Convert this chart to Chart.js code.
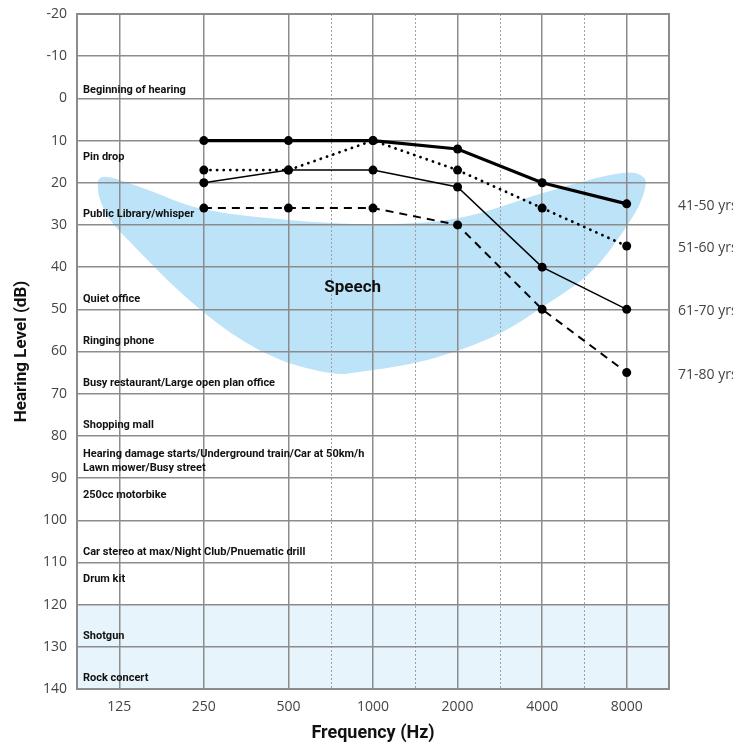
<!DOCTYPE html>
<html>
<head>
<meta charset="utf-8">
<script src="https://cdn.jsdelivr.net/npm/chart.js@4.4.1/dist/chart.umd.min.js"></script>
<style>
  body { margin: 0; background: #fff; }
</style>
</head>
<body>
<canvas id="audiogram" width="733" height="744"></canvas>
<script>
// frequencies (Hz) on the x axis, one per category slot
var frequencies = ['125', '250', '500', '1000', '2000', '4000', '8000'];
var dbTicks = [-20, -10, 0, 10, 20, 30, 40, 50, 60, 70, 80, 90, 100, 110, 120, 130, 140];

// hearing level (dB) per age group, null = not measured
var ageGroups = ['41-50 yrs', '51-60 yrs', '61-70 yrs', '71-80 yrs'];
var hl41to50 = [null, 10, 10, 10, 12, 20, 25];
var hl51to60 = [null, 17, 17, 10, 17, 26, 35];
var hl61to70 = [null, 20, 17, 17, 21, 40, 50];
var hl71to80 = [null, 26, 26, 26, 30, 50, 65];

// everyday sounds and their level
var soundNames = ['Beginning of hearing', 'Pin drop', 'Public Library/whisper', 'Quiet office',
  'Ringing phone', 'Busy restaurant/Large open plan office', 'Shopping mall',
  'Hearing damage starts/Underground train/Car at 50km/h', 'Lawn mower/Busy street',
  '250cc motorbike', 'Car stereo at max/Night Club/Pnuematic drill', 'Drum kit', 'Shotgun', 'Rock concert'];
var soundDb = [-2, 14, 27.5, 47.5, 57.5, 67.5, 77.5, 84.3, 87.6, 94, 107.5, 114, 127.5, 137.5];

// half-octave positions (dotted lines) in category units
var halfOctaves = [2.5, 3.5, 4.5, 5.5];
// painful zone
var loudZone = [120, 140];

// outline of the speech "banana" in (frequency slot, dB)
var speechX  = [-0.18, 0.3, 1.0, 1.99, 3.09, 4.03, 5.01, 5.68, 6.0, 6.18, 6.22, 6.07, 5.6, 5.01, 4.42, 3.64, 2.85, 2.5, 1.91, 1.32, 0.73, 0.14, -0.13, -0.25];
var speechDb = [18.6, 21.4, 26.3, 28.8, 29.8, 28.3, 22.4, 18.7, 17.6, 18.4, 21.0, 28.1, 40.7, 49.4, 56.5, 62.0, 64.8, 65.1, 62.0, 55.6, 46.1, 34.3, 28.1, 22.0];
var speechLabel = { text: 'Speech', x: 2.76, db: 45 };

function toPoints(arr) {
  var pts = [];
  arr.forEach(function(v, i) { if (v !== null) pts.push({ x: i, y: v }); });
  return pts;
}

var labelFont = 'Roboto, sans-serif';
var tickFont = '"Open Sans", sans-serif';

var decorations = {
  id: 'decorations',
  beforeDraw: function(chart) {
    var ctx = chart.ctx, xs = chart.scales.x, ys = chart.scales.y, a = chart.chartArea;
    ctx.save();
    var yTop = ys.getPixelForValue(loudZone[0]);
    var yBot = ys.getPixelForValue(loudZone[1]);
    ctx.fillStyle = '#e7f4fc';
    ctx.fillRect(a.left, yTop, a.right - a.left, yBot - yTop);

    var pts = speechX.map(function(v, i) {
      return [xs.getPixelForValue(v), ys.getPixelForValue(speechDb[i])];
    });
    var n = pts.length;
    ctx.beginPath();
    ctx.moveTo(pts[0][0], pts[0][1]);
    for (var i = 0; i < n; i++) {
      var p0 = pts[(i - 1 + n) % n], p1 = pts[i], p2 = pts[(i + 1) % n], p3 = pts[(i + 2) % n];
      ctx.bezierCurveTo(p1[0] + (p2[0] - p0[0]) / 6, p1[1] + (p2[1] - p0[1]) / 6,
        p2[0] - (p3[0] - p1[0]) / 6, p2[1] - (p3[1] - p1[1]) / 6, p2[0], p2[1]);
    }
    ctx.closePath();
    ctx.fillStyle = '#bde3f8';
    ctx.fill();

    ctx.setLineDash([2, 2]);
    ctx.strokeStyle = '#a0a0a0';
    ctx.lineWidth = 1;
    halfOctaves.forEach(function(v) {
      var x = Math.round(xs.getPixelForValue(v)) + 0.5;
      ctx.beginPath();
      ctx.moveTo(x, a.top);
      ctx.lineTo(x, a.bottom);
      ctx.stroke();
    });
    ctx.restore();
  },
  beforeDatasetsDraw: function(chart) {
    var ctx = chart.ctx, xs = chart.scales.x, ys = chart.scales.y, a = chart.chartArea;
    ctx.save();
    ctx.strokeStyle = '#8c8c8c';
    ctx.lineWidth = 2;
    ctx.strokeRect(a.left, a.top, a.right - a.left, a.bottom - a.top);

    ctx.fillStyle = '#111';
    ctx.font = 'bold 11px ' + labelFont;
    ctx.textBaseline = 'middle';
    ctx.textAlign = 'left';
    soundNames.forEach(function(s, i) {
      ctx.fillText(s, a.left + 6, ys.getPixelForValue(soundDb[i]));
    });

    ctx.font = 'bold 17px ' + labelFont;
    ctx.textAlign = 'center';
    ctx.fillText(speechLabel.text, xs.getPixelForValue(speechLabel.x), ys.getPixelForValue(speechLabel.db));
    ctx.restore();
  },
  afterDraw: function(chart) {
    var ctx = chart.ctx, a = chart.chartArea;
    ctx.save();
    ctx.fillStyle = '#444';
    ctx.font = '14px ' + tickFont;
    ctx.textBaseline = 'middle';
    ctx.textAlign = 'left';
    chart.data.datasets.forEach(function(ds, i) {
      var meta = chart.getDatasetMeta(i);
      var last = meta.data[meta.data.length - 1];
      ctx.fillText(ds.label, a.right + 9, last.y + 2);
    });
    ctx.restore();
  }
};

var styles = [
  { width: 3.2, dash: [] },
  { width: 2.8, dash: [0.1, 6.5] },
  { width: 1.5, dash: [] },
  { width: 2, dash: [8, 6] }
];

var series = [hl41to50, hl51to60, hl61to70, hl71to80];

new Chart(document.getElementById('audiogram').getContext('2d'), {
  type: 'line',
  data: {
    datasets: series.map(function(s, i) {
      return {
        label: ageGroups[i],
        data: toPoints(s),
        borderColor: '#000',
        backgroundColor: '#000',
        borderWidth: styles[i].width,
        borderDash: styles[i].dash,
        borderCapStyle: styles[i].dash.length && styles[i].dash[0] < 1 ? 'round' : 'butt',
        pointRadius: 4.5,
        pointBorderWidth: 0,
        pointBackgroundColor: '#000',
        tension: 0,
        clip: false
      };
    })
  },
  plugins: [decorations],
  options: {
    responsive: false,
    animation: false,
    devicePixelRatio: 1,
    layout: { padding: { left: 0, right: 64, top: 14, bottom: 0 } },
    plugins: { legend: { display: false }, tooltip: { enabled: false } },
    scales: {
      x: {
        type: 'linear',
        min: -0.5,
        max: 6.5,
        afterBuildTicks: function(s) { s.ticks = frequencies.map(function(f, i) { return { value: i }; }); },
        afterFit: function(s) { s.height = 55; s.paddingLeft = 0; s.paddingRight = 0; },
        grid: { color: '#8c8c8c', lineWidth: 1.5, drawTicks: false },
        border: { display: false },
        ticks: {
          padding: 10,
          color: '#444',
          font: { family: tickFont, size: 14 },
          callback: function(v) { return frequencies[v]; }
        },
        title: {
          display: true,
          text: 'Frequency (Hz)',
          color: '#111',
          font: { family: labelFont, size: 18, weight: 'bold' },
          padding: { top: 0, bottom: 0 }
        }
      },
      y: {
        type: 'linear',
        reverse: true,
        min: -20,
        max: 140,
        afterBuildTicks: function(s) { s.ticks = dbTicks.map(function(v) { return { value: v }; }); },
        afterFit: function(s) { s.width = 77; s.paddingTop = 0; s.paddingBottom = 0; },
        grid: { color: '#8c8c8c', lineWidth: 1.5, drawTicks: false },
        border: { display: false },
        ticks: {
          padding: 10,
          color: '#444',
          font: { family: tickFont, size: 14 }
        },
        title: {
          display: true,
          text: 'Hearing Level (dB)',
          color: '#111',
          font: { family: labelFont, size: 17, weight: 'bold' },
          padding: { top: 12, bottom: 0 }
        }
      }
    }
  }
});
</script>
</body>
</html>
